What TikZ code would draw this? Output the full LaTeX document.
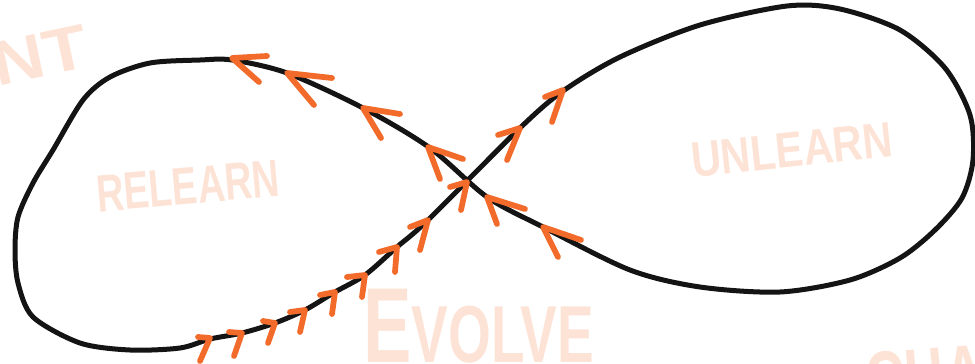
\documentclass[tikz,border=0pt]{standalone}
\usepackage{fontspec}
\setmainfont{Liberation Sans}
\definecolor{sketchorange}{HTML}{F26B2B}
\definecolor{wordpeach}{HTML}{FDE3D6}

\begin{document}
\begin{tikzpicture}[x=0.2mm, y=-0.2mm,
    infline/.style={line width=1mm, black!92, line join=round},
    chev/.style={line width=1.15mm, sketchorange, line cap=round, line join=round},
    word/.style={text=wordpeach, font=\bfseries, inner sep=0pt}
  ]

  % Marco
  \useasboundingbox (0,0) rectangle (975,364);
  \clip (0,0) rectangle (975,364);

  % Palabras de fondo
  \node[word, anchor=base east, rotate=12, xscale=1.15] (nt) at (92,66) {\fontsize{35.7}{36}\selectfont NT};
  \node[word, rotate=5, xscale=0.72] (relearn) at (188,186) {\fontsize{30}{30}\selectfont RELEARN};
  \node[word, rotate=6, xscale=0.83] (unlearn) at (792,150) {\fontsize{28.4}{29}\selectfont UNLEARN};
  \node[word, anchor=base west, xscale=0.68] (evolve) at (363,362) {\fontsize{60.7}{61}\selectfont E\fontsize{46}{46}\selectfont VOLVE};
  \node[word, anchor=base west, rotate=5, xscale=0.68] (change) at (868,410) {\fontsize{46}{46}\selectfont CHANGE};

  % Curva infinita
  \draw[infline] plot[smooth cycle, tension=0.5] coordinates {
    (242,333) (275,323) (305,310) (335,292) (365,275) (397,247) (428,220)
    (520,128) (563,91) (620,57) (700,25) (787,6) (840,9) (900,30) (945,68)
    (970,115) (973,160) (962,198) (935,230) (900,258) (850,280)
    (780,292) (700,287) (630,270) (543,227) (487,197) (430,148) (363,108)
    (287,73) (232,60) (200,60) (150,63) (110,77) (83,100) (53,150) (33,183)
    (18,217) (15,250) (18,283) (33,317) (80,343) (130,350) (180,348) (210,339)};

  % Flechas naranjas
  \foreach \x/\y/\ax/\ay/\bx/\by in {
      210/338/-12/-1/-10/23, 242/333/-13/-1/-8/23, 275/323/-12/-2/-7/20,
      305/310/-15/2/-5/22, 335/292/-15/3/-3/22, 365/275/-18/2/-3/22,
      397/247/-18/5/-2/25, 428/220/-18/7/-8/30, 467/182/-17/5/-6/28,
      520/128/-22/7/-13/32, 563/90/-18/7/-11/32,
      543/227/38/13/15/30, 487/197/38/12/10/27,
      428/147/35/12/12/32, 363/108/37/6/18/30, 287/73/45/5/27/32, 232/58/35/-2/27/24} {
    \draw[chev] (\x,\y) ++(\ax,\ay) -- (\x,\y) -- ++(\bx,\by);
  }
\end{tikzpicture}
\end{document}
